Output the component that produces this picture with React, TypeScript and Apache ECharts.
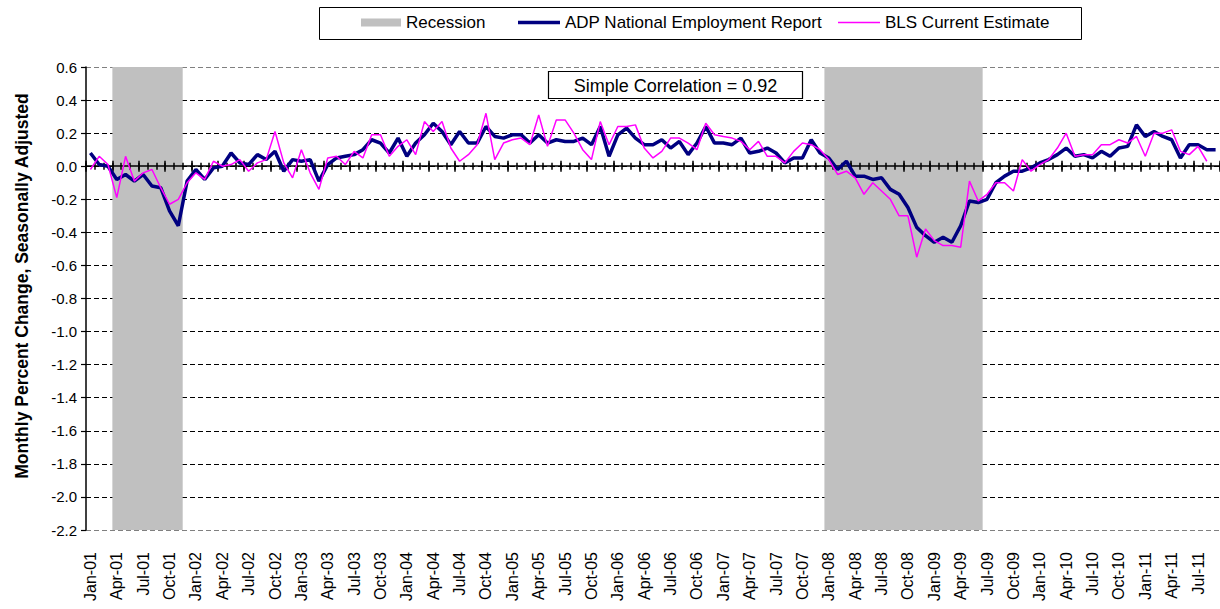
import React, { useEffect, useRef } from "react";
import * as echarts from "echarts";

const MONTHS = ["Jan", "Feb", "Mar", "Apr", "May", "Jun", "Jul", "Aug", "Sep", "Oct", "Nov", "Dec"];
const YEARS = ["01", "02", "03", "04", "05", "06", "07", "08", "09", "10", "11"];
// Jan-01 .. Sep-11
const CATEGORIES = YEARS.flatMap((y) => MONTHS.map((m) => `${m}-${y}`)).slice(0, 129);

const ADP = [
  0.08, 0.01, 0.0, -0.08, -0.05, -0.09, -0.05, -0.12, -0.13, -0.27, -0.36, -0.09,
  -0.02, -0.08, -0.01, 0.0, 0.08, 0.02, 0.01, 0.07, 0.04, 0.09, -0.03, 0.04,
  0.03, 0.04, -0.09, 0.01, 0.05, 0.06, 0.07, 0.1, 0.16, 0.14, 0.08, 0.17,
  0.06, 0.14, 0.19, 0.26, 0.21, 0.13, 0.21, 0.14, 0.14, 0.24, 0.18, 0.17,
  0.19, 0.19, 0.14, 0.19, 0.14, 0.16, 0.15, 0.15, 0.17, 0.13, 0.24, 0.06,
  0.19, 0.23, 0.17, 0.13, 0.13, 0.16, 0.11, 0.15, 0.07, 0.14, 0.24, 0.14,
  0.14, 0.13, 0.17, 0.08, 0.09, 0.11, 0.08, 0.02, 0.05, 0.05, 0.16, 0.08,
  0.05, -0.02, 0.03, -0.06, -0.06, -0.08, -0.07, -0.14, -0.17, -0.25, -0.37, -0.42,
  -0.46, -0.43, -0.46, -0.36, -0.21, -0.22, -0.2, -0.1, -0.06, -0.03, -0.03, -0.01,
  0.02, 0.04, 0.07, 0.11, 0.06, 0.07, 0.05, 0.09, 0.06, 0.11, 0.12, 0.25,
  0.18, 0.21, 0.18, 0.16, 0.05, 0.13, 0.13, 0.1, 0.1,
];

const BLS = [
  -0.02, 0.06, 0.01, -0.19, 0.06, -0.09, -0.04, -0.02, -0.13, -0.23, -0.2, -0.1,
  -0.04, -0.08, 0.03, 0.0, 0.01, 0.04, -0.03, 0.02, 0.04, 0.21, 0.02, -0.07,
  0.1, -0.04, -0.14, 0.05, 0.06, 0.01, 0.09, 0.05, 0.19, 0.19, 0.06, 0.12,
  0.16, 0.07, 0.27, 0.21, 0.27, 0.11, 0.03, 0.07, 0.13, 0.32, 0.04, 0.14,
  0.16, 0.17, 0.13, 0.31, 0.12, 0.28, 0.28, 0.2, 0.1, 0.04, 0.27, 0.13,
  0.24, 0.24, 0.25, 0.11, 0.05, 0.09, 0.17, 0.17, 0.14, 0.1, 0.26, 0.19,
  0.18, 0.17, 0.15, 0.1, 0.15, 0.06, 0.06, 0.02, 0.09, 0.14, 0.13, 0.1,
  0.04, -0.05, -0.03, -0.07, -0.17, -0.1, -0.15, -0.2, -0.3, -0.3, -0.55, -0.38,
  -0.45, -0.48, -0.48, -0.49, -0.09, -0.21, -0.17, -0.1, -0.1, -0.15, 0.04, -0.03,
  0.01, 0.04, 0.11, 0.2, 0.06, 0.07, 0.07, 0.13, 0.13, 0.16, 0.14, 0.18,
  0.06, 0.2, 0.2, 0.22, 0.09, 0.07, 0.12, 0.03,
];

const RECESSIONS = [
  ["Apr-01", "Nov-01"],
  ["Jan-08", "Jun-09"],
];

const Y_MIN = -2.2;
const Y_MAX = 0.6;
const Y_STEP = 0.2;

const SERIES_NAMES = ["Recession", "ADP National Employment Report", "BLS Current Estimate"];
const SERIES_COLORS = ["#C0C0C0", "#000080", "#FF00FF"];
const Y_NAME = "Monthly Percent Change, Seasonally Adjusted";
const CORRELATION_LABEL = "Simple Correlation = 0.92";

const FONT = "'Liberation Sans', Arial, sans-serif";

function tickAxis(interval: number, length: number, inside: boolean, showLine: boolean) {
  return {
    type: "category",
    data: CATEGORIES,
    boundaryGap: true,
    position: "bottom",
    z: 3,
    axisLine: {
      show: showLine,
      onZero: true,
      onZeroAxisIndex: 0,
      lineStyle: { color: "#000", width: 1.5 },
    },
    axisTick: {
      show: true,
      interval,
      inside,
      length,
      lineStyle: { color: "#000", width: 1.5 },
    },
    axisLabel: { show: false },
    splitLine: { show: false },
  };
}

export default function App() {
  const ref = useRef<HTMLDivElement>(null);

  useEffect(() => {
    if (!ref.current) return;
    const chart = echarts.init(ref.current, undefined, { renderer: "svg" });

    const nSplit = Math.round((Y_MAX - Y_MIN) / Y_STEP) + 1;
    const splitColors = Array.from({ length: nSplit }, (_, i) =>
      i === 0 || i === nSplit - 1 ? "#808080" : "#000"
    );

    const recessionData = RECESSIONS.map(([s, e]) => [
      CATEGORIES.indexOf(s),
      CATEGORIES.indexOf(e),
      0,
    ]);

    const legendBase = {
      top: 14,
      padding: 0,
      itemGap: 0,
      selectedMode: false,
      textStyle: { fontSize: 17, color: "#000", fontFamily: FONT },
    };

    const option: any = {
      animation: false,
      backgroundColor: "#fff",
      textStyle: { fontFamily: FONT },
      grid: { left: 86, top: 67, width: 1136.5, height: 463, containLabel: false },
      legend: [
        {
          ...legendBase,
          left: 361,
          itemWidth: 40,
          itemHeight: 8,
          data: [{ name: SERIES_NAMES[0], icon: "rect", itemStyle: { color: SERIES_COLORS[0] } }],
        },
        {
          ...legendBase,
          left: 518,
          itemWidth: 42,
          itemHeight: 3.5,
          data: [{ name: SERIES_NAMES[1], icon: "rect", itemStyle: { color: SERIES_COLORS[1] } }],
        },
        {
          ...legendBase,
          left: 838,
          itemWidth: 42,
          itemHeight: 1.5,
          data: [{ name: SERIES_NAMES[2], icon: "rect", itemStyle: { color: SERIES_COLORS[2] } }],
        },
      ],
      xAxis: [
        {
          type: "category",
          data: CATEGORIES,
          boundaryGap: true,
          position: "bottom",
          axisLine: { show: false, onZero: false },
          axisTick: { show: false },
          axisLabel: {
            interval: 2,
            rotate: 90,
            margin: 22,
            fontSize: 16,
            color: "#000",
            fontFamily: FONT,
          },
          splitLine: { show: false },
        },
        tickAxis(2, 5.5, false, true),
        tickAxis(2, 5.5, true, false),
        tickAxis(0, 3.5, false, false),
        tickAxis(0, 3.5, true, false),
      ],
      yAxis: {
        type: "value",
        min: Y_MIN,
        max: Y_MAX,
        interval: Y_STEP,
        axisLine: { show: true, lineStyle: { color: "#000", width: 1.5 } },
        axisTick: { show: true, length: 5, lineStyle: { color: "#000", width: 1.2 } },
        axisLabel: {
          formatter: (v: number) => (Math.abs(v) < 1e-9 ? 0 : v).toFixed(1),
          fontSize: 15,
          color: "#000",
          margin: 9,
          fontFamily: FONT,
        },
        splitLine: {
          show: true,
          lineStyle: { color: splitColors, type: [5, 3], width: 1 },
        },
      },
      series: [
        {
          name: SERIES_NAMES[0],
          type: "custom",
          xAxisIndex: 0,
          yAxisIndex: 0,
          z: 2,
          silent: true,
          itemStyle: { color: SERIES_COLORS[0] },
          encode: { x: [0, 1], y: 2 },
          data: recessionData,
          renderItem: (_params: any, api: any) => {
            const s = api.value(0);
            const e = api.value(1);
            const p0 = api.coord([s, Y_MAX]);
            const p1 = api.coord([e, Y_MIN]);
            const w = api.size([1, 0])[0];
            return {
              type: "rect",
              shape: {
                x: p0[0] - w / 2,
                y: p0[1],
                width: p1[0] - p0[0] + w,
                height: p1[1] - p0[1],
              },
              style: { fill: SERIES_COLORS[0] },
            };
          },
        },
        {
          name: SERIES_NAMES[1],
          type: "line",
          xAxisIndex: 0,
          yAxisIndex: 0,
          data: ADP,
          symbol: "none",
          showSymbol: false,
          silent: true,
          z: 5,
          lineStyle: { color: SERIES_COLORS[1], width: 3.5 },
          itemStyle: { color: SERIES_COLORS[1] },
        },
        {
          name: SERIES_NAMES[2],
          type: "line",
          xAxisIndex: 0,
          yAxisIndex: 0,
          data: BLS,
          symbol: "none",
          showSymbol: false,
          silent: true,
          z: 6,
          lineStyle: { color: SERIES_COLORS[2], width: 1.5 },
          itemStyle: { color: SERIES_COLORS[2] },
        },
      ],
      graphic: [
        {
          type: "rect",
          z: 0,
          shape: { x: 319.5, y: 7.5, width: 762, height: 32 },
          style: { fill: "none", stroke: "#000", lineWidth: 1 },
        },
        {
          type: "rect",
          z: 10,
          shape: { x: 548.5, y: 71.5, width: 254, height: 27 },
          style: { fill: "#fff", stroke: "#000", lineWidth: 1.2 },
        },
        {
          type: "text",
          z: 11,
          x: 675.5,
          y: 85.5,
          style: {
            text: CORRELATION_LABEL,
            fontSize: 18,
            fontFamily: FONT,
            fill: "#000",
            textAlign: "center",
            textVerticalAlign: "middle",
          },
        },
        {
          type: "text",
          z: 11,
          x: 22,
          y: 286,
          rotation: Math.PI / 2,
          style: {
            text: Y_NAME,
            fontSize: 17.5,
            fontWeight: "bold",
            fontFamily: FONT,
            fill: "#000",
            textAlign: "center",
            textVerticalAlign: "middle",
          },
        },
      ],
    };

    chart.setOption(option);
    return () => chart.dispose();
  }, []);

  return (
    <div
      ref={ref}
      style={{ position: "fixed", left: 0, top: 0, width: 1220, height: 609, background: "#fff" }}
    />
  );
}
